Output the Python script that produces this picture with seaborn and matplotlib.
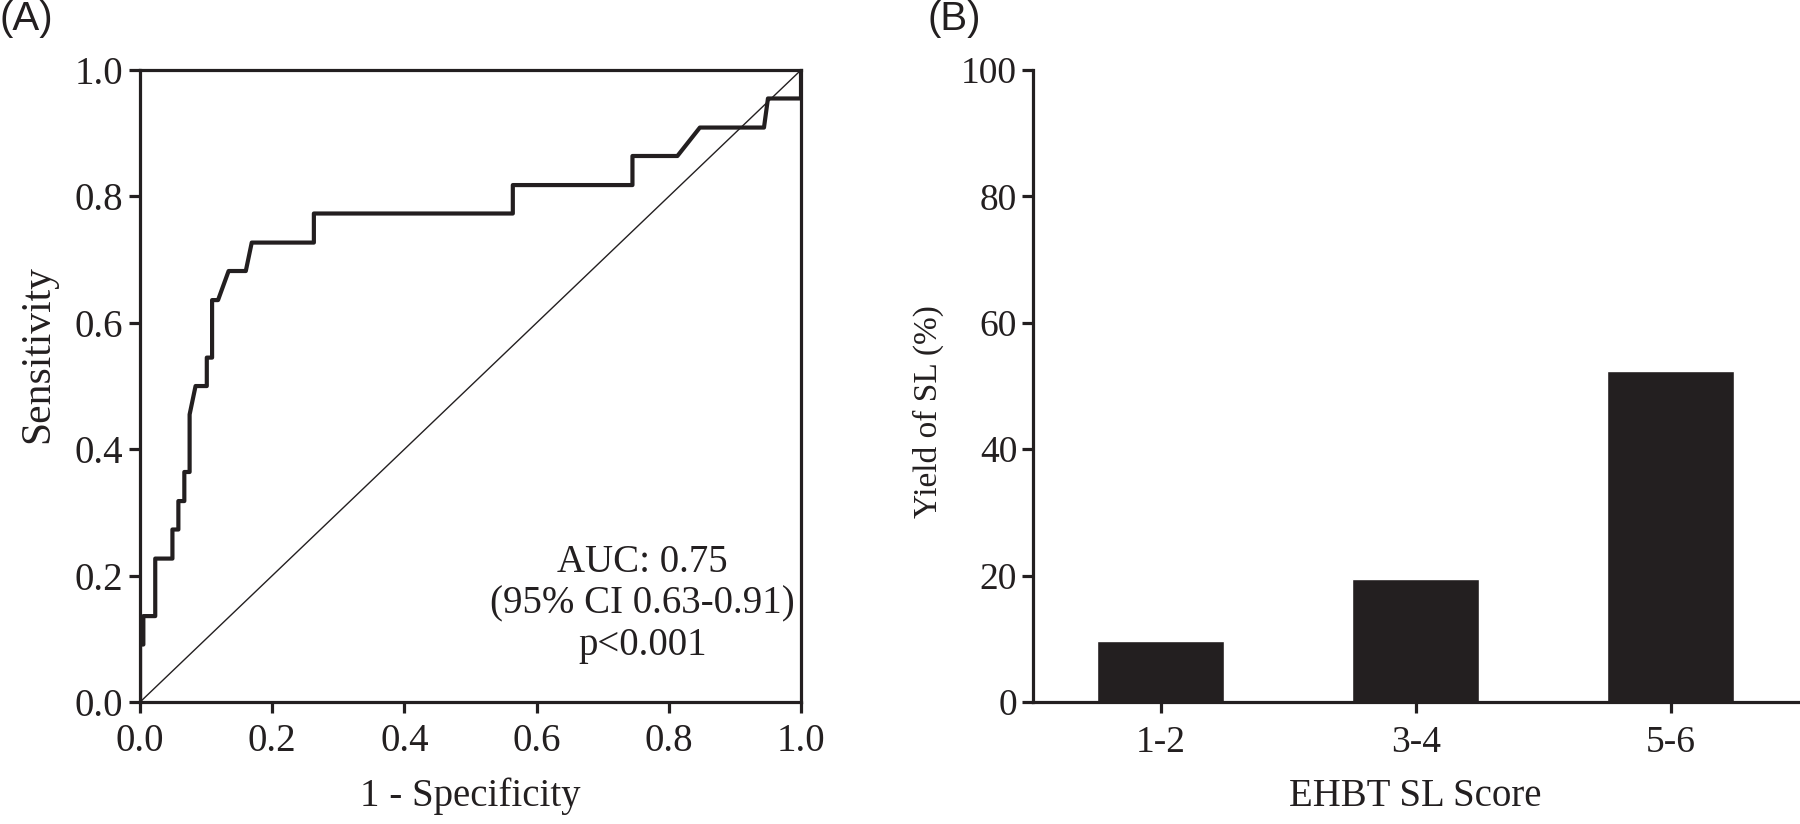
import matplotlib
matplotlib.use("Agg")
import matplotlib.pyplot as plt
import seaborn as sns
import pandas as pd

# ROC curve data (1 - specificity, sensitivity)
fpr = [0.0, 0.0, 0.005, 0.005, 0.023, 0.023, 0.049, 0.049, 0.058, 0.058, 0.067, 0.067,
       0.075, 0.075, 0.084, 0.101, 0.101, 0.109, 0.109, 0.118, 0.134, 0.160, 0.169,
       0.263, 0.263, 0.564, 0.564, 0.745, 0.745, 0.813, 0.847, 0.944, 0.950, 1.0, 1.0]
tpr = [0.0, 0.091, 0.091, 0.136, 0.136, 0.227, 0.227, 0.273, 0.273, 0.318, 0.318, 0.364,
       0.364, 0.455, 0.500, 0.500, 0.545, 0.545, 0.636, 0.636, 0.682, 0.682, 0.727,
       0.727, 0.773, 0.773, 0.818, 0.818, 0.864, 0.864, 0.909, 0.909, 0.955, 0.955, 1.0]
ref_x = [0.0, 1.0]
ref_y = [0.0, 1.0]
roc_ticks = [0.0, 0.2, 0.4, 0.6, 0.8, 1.0]
auc_text = "AUC: 0.75\n(95% CI 0.63-0.91)\np<0.001"

# Bar chart data
categories = ["1-2", "3-4", "5-6"]
yield_pct = [9.7, 19.4, 52.4]
bar_ticks = [0, 20, 40, 60, 80, 100]

sns.set_theme(style="ticks")
plt.rcParams['font.family'] = ['Liberation Serif', 'DejaVu Serif']
INK = "#231f20"
plt.rcParams.update({
    "axes.edgecolor": INK,
    "axes.linewidth": 2.3,
    "xtick.color": INK, "ytick.color": INK,
    "xtick.major.width": 2.3, "ytick.major.width": 2.3,
    "xtick.major.size": 8, "ytick.major.size": 8,
    "xtick.direction": "out", "ytick.direction": "out",
    "text.color": INK, "axes.labelcolor": INK,
})

fig = plt.figure(figsize=(18, 8.24), dpi=100)
ax1 = fig.add_axes([0.0778, 0.148, 0.3672, 0.767])
ax2 = fig.add_axes([0.574, 0.148, 0.425, 0.767])

# ---- Panel A: ROC ----
roc_df = pd.DataFrame({"fpr": fpr, "tpr": tpr})
sns.lineplot(data=roc_df, x="fpr", y="tpr", sort=False, estimator=None,
             color=INK, linewidth=3.0, ax=ax1)
sns.lineplot(x=ref_x, y=ref_y, color=INK, linewidth=1.0, ax=ax1)
ax1.set_xlim(0, 1)
ax1.set_ylim(0, 1)
ax1.set_xticks(roc_ticks)
ax1.set_yticks(roc_ticks)
ax1.set_xticklabels([f"{t:.1f}" for t in roc_ticks], fontsize=28)
ax1.set_yticklabels([f"{t:.1f}" for t in roc_ticks], fontsize=28)
ax1.tick_params(axis="x", pad=7)
ax1.tick_params(axis="y", pad=4)
ax1.set_xlabel("1 - Specificity", fontsize=28, labelpad=13)
ax1.set_ylabel("Sensitivity", fontsize=30)
ax1.yaxis.set_label_coords(-0.125, 0.55)
for s in ax1.spines.values():
    s.set_visible(True)
ax1.text(0.76, 0.155, auc_text, ha="center", va="center", fontsize=28,
         linespacing=1.17, transform=ax1.transData)

# ---- Panel B: bars ----
bar_df = pd.DataFrame({"score": categories, "yield": yield_pct})
sns.barplot(data=bar_df, x="score", y="yield", color=INK, saturation=1,
            width=0.5, ax=ax2)
ax2.set_xlim(-0.5, 2.5)
ax2.set_ylim(0, 100)
ax2.set_yticks(bar_ticks)
ax2.set_yticklabels([str(t) for t in bar_ticks], fontsize=27)
ax2.set_xticks(range(len(categories)))
ax2.set_xticklabels(categories, fontsize=27)
ax2.tick_params(axis="x", pad=9)
ax2.set_xlabel("EHBT SL Score", fontsize=28, labelpad=13)
ax2.set_ylabel("Yield of SL (%)", fontsize=24)
ax2.yaxis.set_label_coords(-0.117, 0.46)
sns.despine(ax=ax2)

# Panel labels
fig.text(0.0, 1.0, "(A)", fontsize=29, family=["Liberation Sans", "DejaVu Sans"],
         ha="left", va="top")
fig.text(0.515, 1.0, "(B)", fontsize=29, family=["Liberation Sans", "DejaVu Sans"],
         ha="left", va="top")

fig.savefig("out.png", dpi=100)
